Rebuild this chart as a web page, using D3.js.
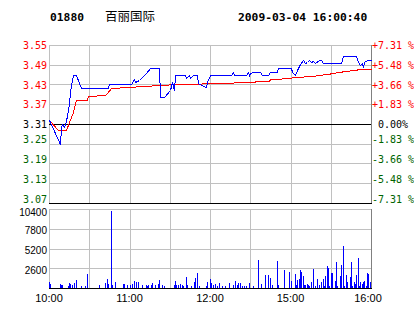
<!DOCTYPE html>
<html>
<head>
<meta charset="utf-8">
<script src="https://cdn.jsdelivr.net/npm/d3@7/dist/d3.min.js"></script>
<style>
  body { margin: 0; background: #fff; }
  svg { display: block; }
  .mono { font-family: "DejaVu Sans Mono", monospace; }
  .sans { font-family: "Liberation Sans", Arial, sans-serif; }
</style>
</head>
<body>
<div id="chart"></div>
<script>
var w = 414,
  h = 314;

var code = "01880";
var stockName = "百丽国际";
var stamp = "2009-03-04 16:00:40";
var prevClose = 3.31;

// left price ticks and right percent labels
var priceTicks = [3.55, 3.49, 3.43, 3.37, 3.31, 3.25, 3.19, 3.13, 3.07];
var pctLabels = ["+7.31 %", "+5.48 %", "+3.66 %", "+1.83 %", " 0.00%", "-1.83 %", "-3.66 %", "-5.48 %", "-7.31 %"];
var volTicks = [10400, 7800, 5200, 2600];
// minute index of the session: 0 = 10:00, 150 = 12:30/14:30, 240 = 16:00
var timeTicks = [0, 60, 120, 180, 240];
var timeLabels = ["10:00", "11:00", "12:00", "15:00", "16:00"];

// [minute, price]
var price = [
  [0, 3.322], [8, 3.25], [9, 3.30], [10, 3.31], [11, 3.30], [13, 3.32], [15, 3.37], [16, 3.41],
  [18, 3.46], [20, 3.46], [24, 3.42], [44, 3.42], [45, 3.43], [61, 3.43], [63, 3.447], [64, 3.437],
  [67, 3.444], [72, 3.466], [75, 3.479], [82, 3.479], [83, 3.391], [86, 3.391], [90, 3.413],
  [92, 3.438], [93, 3.413], [94, 3.459], [101, 3.459], [102, 3.451], [104, 3.458], [105, 3.451],
  [107, 3.459], [110, 3.459], [111, 3.434], [115, 3.425], [117, 3.423], [118, 3.438], [120, 3.459],
  [136, 3.459], [137, 3.469], [138, 3.459], [147, 3.459], [148, 3.467], [149, 3.459], [150, 3.465],
  [152, 3.469], [157, 3.469], [159, 3.459], [163, 3.459], [165, 3.469], [170, 3.469], [171, 3.479],
  [180, 3.479], [181, 3.469], [183, 3.459], [185, 3.474], [187, 3.492], [189, 3.503], [191, 3.496],
  [192, 3.497], [194, 3.504], [195, 3.497], [197, 3.502], [198, 3.496], [201, 3.504], [203, 3.504],
  [204, 3.496], [218, 3.496], [219, 3.517], [229, 3.517], [230, 3.498], [232, 3.489], [233, 3.494],
  [234, 3.484], [235, 3.498], [237, 3.504], [240, 3.504]
];

// [minute, average price]
var avgPrice = [
  [0, 3.322], [7, 3.292], [13, 3.292], [15, 3.317], [18, 3.347], [20, 3.383], [28, 3.383],
  [29, 3.395], [42, 3.398], [43, 3.405], [46, 3.418], [59, 3.421], [82, 3.428], [96, 3.431],
  [108, 3.433], [120, 3.435], [137, 3.435], [138, 3.438], [153, 3.438], [154, 3.442], [164, 3.442],
  [165, 3.446], [173, 3.446], [174, 3.449], [180, 3.449], [181, 3.453], [198, 3.456], [199, 3.459],
  [209, 3.461], [210, 3.465], [218, 3.467], [219, 3.470], [229, 3.473], [230, 3.476], [240, 3.476]
];

// [minute, volume]
var volume = [
  [0, 750], [1, 530], [8, 570], [9, 440], [10, 440], [14, 310], [15, 660], [16, 570], [17, 440],
  [19, 660], [20, 1100], [24, 310], [27, 310], [28, 1890], [37, 440], [42, 660], [43, 1190],
  [44, 530], [46, 10200], [47, 440], [49, 790], [55, 530], [56, 530], [58, 440], [60, 440],
  [62, 570], [63, 970], [65, 750], [66, 750], [69, 440], [72, 440], [73, 310], [74, 440], [76, 440],
  [77, 660], [79, 440], [81, 570], [82, 1100], [84, 440], [86, 310], [93, 440], [94, 880],
  [95, 440], [96, 440], [98, 530], [99, 440], [100, 310], [102, 1450], [103, 440], [106, 310],
  [108, 750], [109, 1320], [110, 1980], [112, 310], [117, 310], [118, 750], [120, 1230],
  [121, 660], [122, 440], [124, 570], [125, 310], [127, 660], [129, 310], [131, 310], [134, 660],
  [137, 440], [139, 880], [140, 440], [141, 660], [142, 660], [144, 310], [145, 310], [147, 310],
  [149, 660], [152, 310], [156, 3730], [158, 570], [161, 1670], [163, 1760], [165, 1320],
  [166, 440], [170, 3600], [171, 440], [175, 2420], [179, 2110], [180, 970], [183, 1890],
  [184, 440], [185, 1010], [186, 1190], [187, 2420], [188, 2060], [189, 1540], [190, 440],
  [191, 440], [192, 570], [193, 440], [194, 310], [195, 750], [197, 2550], [198, 310], [200, 1190],
  [201, 440], [203, 790], [204, 1230], [205, 310], [206, 1540], [207, 2940], [208, 2630],
  [209, 310], [210, 1980], [211, 1980], [213, 970], [214, 3380], [215, 310], [217, 1540],
  [218, 3070], [219, 5580], [220, 310], [221, 1760], [222, 750], [224, 1450], [225, 3420],
  [226, 310], [227, 750], [228, 570], [229, 1670], [230, 4000], [231, 310], [232, 790], [233, 570],
  [234, 750], [235, 970], [236, 310], [237, 1980], [238, 1890], [239, 750]
];

var red = "#ff0000", green = "#006400", grid = "#c0c0c0";

draw();

function px(v) {
  return Math.round(v) + 0.5;
}

function hline(g, x1, x2, y, color) {
  g.append("line").attr("x1", x1).attr("x2", x2).attr("y1", px(y)).attr("y2", px(y))
    .style("stroke", color).style("stroke-width", 1);
}

function vline(g, x, y1, y2, color) {
  g.append("line").attr("x1", px(x)).attr("x2", px(x)).attr("y1", y1).attr("y2", y2)
    .style("stroke", color).style("stroke-width", 1);
}

// labels under the previous close sit on their grid line, the others are centred on it
function labelY(p, y) {
  return p < prevClose ? y(p) - 0.5 : y(p) + 4;
}

function draw() {
  var svg = d3.select("#chart").append("svg").attr("width", w).attr("height", h);

  var x = d3.scaleLinear().domain([0, 240]).range([49, 371]);
  var y = d3.scaleLinear().domain([3.07, 3.55]).range([203, 45]);
  var vy = d3.scaleLinear().domain([0, 10400]).range([288, 209]);

  // header
  svg.append("text").attr("class", "mono").attr("x", 50).attr("y", 21)
    .style("font-size", "11.3px").style("font-weight", "bold").text(code);
  svg.append("text").attr("x", 105).attr("y", 21)
    .style("font-family", "'Noto Sans CJK SC', sans-serif").style("font-size", "12.5px").text(stockName);
  svg.append("text").attr("class", "mono").attr("x", 238).attr("y", 21)
    .style("font-size", "11.3px").style("font-weight", "bold").text(stamp);

  var g = svg.append("g");

  // price panel grid
  d3.range(0, 241, 30).forEach(function (m) {
    vline(g, x(m), y(3.55), y(3.07), grid);
  });
  priceTicks.forEach(function (p) {
    hline(g, 49, 371, y(p), grid);
  });
  hline(g, 49, 371, y(prevClose), "#000");
  hline(g, 49, 372, y(3.07), "#000");
  vline(g, 371, y(3.55), y(3.07), "#808080");

  // volume panel grid
  d3.range(0, 241, 30).forEach(function (m) {
    vline(g, x(m), vy(10400), vy(0), grid);
  });
  volTicks.forEach(function (v) {
    hline(g, 49, 371, vy(v), grid);
  });
  vline(g, 371, vy(10400), vy(0), "#808080");

  // volume bars
  g.append("g").selectAll("rect").data(volume).enter().append("rect")
    .attr("x", function (d) { return Math.round(x(d[0])); })
    .attr("y", function (d) { return Math.round(vy(d[1])); })
    .attr("width", 1)
    .attr("height", function (d) { return Math.round(vy(0)) - Math.round(vy(d[1])); })
    .style("fill", "#0000ff");
  hline(g, 49, 372, vy(0), "#000");

  // average and price lines
  var line = d3.line()
    .x(function (d) { return px(x(d[0])); })
    .y(function (d) { return px(y(d[1])); });
  g.append("path").datum(avgPrice).attr("d", line)
    .style("fill", "none").style("stroke", red).style("stroke-width", 1).style("shape-rendering", "crispEdges");
  g.append("path").datum(price).attr("d", line)
    .style("fill", "none").style("stroke", "#0000ff").style("stroke-width", 1).style("shape-rendering", "crispEdges");

  // left price labels
  svg.selectAll(".plabel").data(priceTicks).enter().append("text")
    .attr("class", "mono plabel")
    .attr("x", 47).attr("y", function (d) { return labelY(d, y); })
    .attr("text-anchor", "end")
    .style("font-size", "10px")
    .style("fill", function (d) { return d > prevClose ? red : (d < prevClose ? green : "#000"); })
    .text(function (d) { return d.toFixed(2); });

  // right percent labels
  svg.selectAll(".rlabel").data(pctLabels).enter().append("text")
    .attr("class", "mono rlabel")
    .attr("x", 372).attr("y", function (d, i) { return labelY(priceTicks[i], y); })
    .style("font-size", "10px")
    .style("white-space", "pre")
    .style("fill", function (d) { return d[0] == "+" ? red : (d[0] == "-" ? green : "#000"); })
    .text(function (d) { return d; });

  // volume labels
  svg.selectAll(".vlabel").data(volTicks).enter().append("text")
    .attr("class", "sans vlabel")
    .attr("x", 47).attr("y", function (d) { return Math.max(vy(d) + 5.5, 216); })
    .attr("text-anchor", "end")
    .style("font-size", "10px")
    .text(function (d) { return d; });

  // time labels
  svg.selectAll(".tlabel").data(timeTicks).enter().append("text")
    .attr("class", "sans tlabel")
    .attr("x", function (d, i) { return x(d) - (i == timeTicks.length - 1 ? 3 : 0); })
    .attr("y", 302)
    .attr("text-anchor", "middle")
    .style("font-size", "11px")
    .text(function (d, i) { return timeLabels[i]; });
}
</script>
</body>
</html>
